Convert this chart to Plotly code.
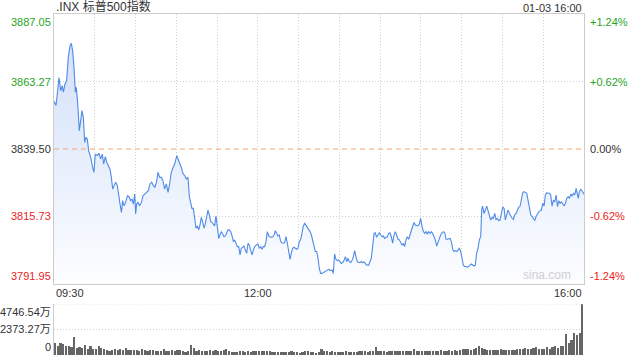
import plotly.graph_objects as go

# ---------------- data ----------------
title_text = ".INX 标普500指数"
stamp_text = "01-03 16:00"
prev_close = 3839.50
price_ticks = [3887.05, 3863.27, 3839.50, 3815.73, 3791.95]
pct_ticks = ["+1.24%", "+0.62%", "0.00%", "-0.62%", "-1.24%"]
vol_ticks = [4746.54, 2373.27, 0]
vol_tick_text = ["4746.54万", "2373.27万", "0"]
time_labels = ["09:30", "12:00", "16:00"]
time_label_pos = [0, 150, 390]          # minutes after 09:30
grid_minutes = [30, 60, 90, 120, 150, 180, 210, 240, 270, 300, 330, 360]

# price: minutes after 09:30 / index level
t1 = [0, 1.5, 3.7, 4.9, 6.1, 6.9, 8.1, 9.3, 10.5, 11.8, 12.8, 13.7, 14.7, 15.7, 16.4, 17.4, 18.6, 19.6, 20.6, 21.6,
      22.6, 23.5, 24.5, 25.5, 27.0, 28.2, 29.4, 30.4, 31.9, 33.1, 34.3, 35.6, 36.5, 37.8, 38.8, 40.0, 41.2, 42.2, 43.2, 44.2,
      45.4, 46.6, 47.6, 48.6, 49.6, 50.5, 51.5, 52.7, 54.0, 55.2, 56.4, 57.4, 58.4, 59.4, 60.1, 60.8, 61.8, 63.0, 64.3, 65.5,
      66.7, 68.2, 69.4, 70.6, 71.9, 73.1, 74.3, 75.6, 76.5, 77.8, 79.0, 80.2, 81.4, 82.7, 83.9, 85.1, 86.3, 87.6, 88.8, 90.3,
      91.3, 92.5, 93.7, 94.9, 96.2, 97.4, 98.6]
p1 = [3856.3, 3854.8, 3864.7, 3860.0, 3861.8, 3859.5, 3862.4, 3863.6, 3871.8, 3875.9,
      3876.7, 3874.1, 3868.3, 3859.5, 3861.2, 3855.9, 3845.9, 3849.5, 3853.0, 3850.6,
      3841.8, 3843.6, 3843.0, 3838.9, 3836.6, 3833.6, 3831.3, 3837.7, 3837.2, 3838.0,
      3836.0, 3837.7, 3834.2, 3836.8, 3834.8, 3833.6, 3832.4, 3829.5, 3825.4, 3826.6,
      3827.8, 3826.6, 3822.5, 3820.1, 3817.2, 3821.3, 3819.5, 3820.7, 3823.0, 3822.7,
      3821.3, 3821.9, 3820.1, 3823.6, 3816.6, 3820.1, 3820.7, 3819.5, 3820.7, 3823.0,
      3823.6, 3824.2, 3824.8, 3827.2, 3827.8, 3826.6, 3826.0, 3828.3, 3831.3, 3829.5,
      3829.5, 3828.3, 3825.4, 3827.2, 3824.2, 3827.2, 3831.3, 3833.0, 3834.2, 3837.1,
      3836.0, 3834.2, 3833.0, 3830.9, 3830.1, 3828.9, 3829.5]

t2 = [99.6, 100.6, 101.5, 102.5, 103.5, 104.5, 105.5, 106.5, 107.4, 108.4,
      109.4, 110.4, 111.4, 112.3, 113.3, 114.3, 115.3, 116.3, 117.2, 118.2,
      119.2, 120.2, 121.2, 122.1, 123.1, 124.1, 125.1, 126.1, 127.1, 128.0,
      129.0, 130.0, 131.0, 132.0, 132.9, 133.9, 134.9, 135.9, 136.9, 137.8,
      138.8, 139.8, 140.8, 141.8, 142.8, 143.7, 144.7, 145.7, 146.7, 147.7,
      148.9, 150.1, 151.1, 152.1, 153.1, 154.0, 155.0, 156.0, 157.0, 158.0,
      158.9, 159.9, 160.9, 161.9, 162.9, 163.8, 164.8, 165.8, 166.8, 167.8,
      168.8, 169.7, 170.7, 171.7, 172.7, 173.7, 174.6, 175.6, 176.6, 177.6,
      178.6, 179.5, 180.5, 181.5, 182.5, 183.5, 184.5, 185.4, 186.4, 187.4,
      188.4, 189.4, 190.3, 191.3, 192.3, 193.3, 194.3, 195.2, 196.2]
p2 = [3822.7, 3821.0, 3818.6, 3818.6, 3815.7, 3811.6, 3812.4, 3811.0, 3812.7, 3815.4,
      3813.9, 3811.6, 3813.3, 3815.1, 3818.0, 3816.3, 3813.9, 3813.6, 3813.1, 3812.4,
      3815.9, 3812.2, 3808.0, 3809.2, 3810.4, 3809.6, 3808.6, 3808.9, 3809.8, 3811.0,
      3811.0, 3810.4, 3808.9, 3806.9, 3807.5, 3806.3, 3805.1, 3805.1, 3802.2, 3804.5,
      3805.1, 3805.3, 3803.9, 3802.8, 3806.3, 3805.7, 3803.9, 3802.2, 3803.9, 3805.1,
      3805.7, 3806.0, 3804.5, 3805.1, 3804.2, 3805.1, 3805.1, 3806.9, 3810.4, 3808.9,
      3808.6, 3808.4, 3808.6, 3809.2, 3810.7, 3809.8, 3808.9, 3809.2, 3806.9, 3806.5,
      3806.3, 3806.5, 3808.6, 3806.3, 3803.4, 3800.6, 3802.8, 3804.5, 3804.9, 3804.5,
      3804.2, 3804.5, 3806.9, 3807.5, 3810.4, 3812.4, 3813.3, 3812.7, 3811.6, 3811.0,
      3810.4, 3809.2, 3807.2, 3805.1, 3803.4, 3803.4, 3801.0, 3797.5, 3795.7]

t3 = [197.2, 198.4, 199.7, 200.9, 202.1, 203.3, 204.6, 205.5,
      206.5, 207.5, 208.5, 209.5, 210.5, 211.4, 212.4, 213.4, 214.4, 215.4,
      216.3, 217.3, 218.3, 219.3, 220.3, 221.2, 222.2, 223.2, 224.2, 225.2,
      226.1, 227.1, 228.1, 229.1, 230.1,
      231.5, 232.5, 233.5, 234.5, 235.5, 236.4, 237.4, 238.4, 239.4, 240.4,
      241.4, 242.3, 243.3, 244.3, 245.3, 246.3, 247.2, 248.2, 249.2, 250.2,
      251.2, 252.1, 253.1, 254.1, 255.1, 256.1, 257.1, 258.0, 259.0, 260.0,
      261.0, 262.0, 262.9, 263.9, 264.9, 265.9, 266.9, 267.8, 268.8, 269.8,
      270.8, 271.8, 272.8, 273.7, 274.7, 275.7, 276.7, 277.7, 278.6, 279.6,
      280.6, 281.6, 282.6, 283.5, 284.5, 285.5, 286.5, 287.5, 288.5, 289.4, 290.4]
p3 = [3795.7, 3796.0, 3796.3, 3796.7, 3797.1, 3796.7, 3796.9, 3795.7, 3802.5, 3800.6,
      3800.2, 3800.4, 3799.8, 3799.2, 3799.5, 3800.2, 3801.6, 3799.8, 3801.0, 3799.8,
      3799.5, 3800.2, 3801.6, 3803.7, 3801.6, 3799.8, 3799.5, 3799.5, 3799.8, 3799.5,
      3799.7, 3799.2, 3798.6, 3798.6, 3799.8, 3801.0, 3805.1, 3809.8, 3810.0, 3808.4,
      3809.2, 3810.0, 3809.2, 3808.6, 3808.9, 3808.0, 3808.4, 3808.6, 3809.8, 3810.0,
      3808.6, 3806.3, 3809.2, 3810.4, 3809.2, 3807.7, 3807.5, 3806.3, 3805.7, 3806.3,
      3805.1, 3807.5, 3808.6, 3807.7, 3809.8, 3810.7, 3812.2, 3813.6, 3812.7, 3812.4,
      3812.4, 3813.1, 3815.1, 3812.2, 3810.4, 3809.8, 3810.4, 3809.6, 3810.4, 3809.8,
      3810.4, 3809.8, 3808.6, 3807.5, 3805.3, 3806.9, 3807.7, 3809.2, 3810.0, 3810.4,
      3810.0, 3807.7, 3807.7, 3808.0]

t4 = [291.4, 292.4, 293.4, 294.3, 295.3, 296.3, 297.3, 298.3, 299.3, 300.2,
      301.2, 302.2, 303.2, 304.2, 305.1, 306.1, 307.1, 308.1, 309.1, 310.0,
      311.0, 312.0, 313.0, 314.0, 314.7, 315.4,
      316.4, 317.4, 318.4, 319.3, 320.3, 321.3, 322.3, 323.3, 324.3, 325.3,
      326.2, 327.2, 328.2, 329.2, 330.2, 331.2, 332.1, 333.1, 334.1, 335.1,
      336.1, 337.1, 338.0, 339.0, 340.0, 341.0, 342.0, 343.0, 343.9, 344.9,
      345.9, 346.9, 347.9, 348.8, 349.8, 350.8, 351.8, 352.8, 353.8, 354.7,
      355.7, 356.7, 357.7, 358.7, 359.6, 360.6, 361.6, 362.6, 363.6, 364.6,
      365.5, 366.5, 367.5, 368.5, 369.5, 370.5, 371.4, 372.4, 373.4, 374.4,
      375.4, 376.3, 377.3, 378.3, 379.3, 380.3, 381.3, 382.2, 383.2, 384.2, 385.2,
      385.8, 386.6, 387.6, 388.5, 389.5, 390.0]
p4 = [3808.0, 3806.9, 3804.2, 3803.4, 3803.7, 3803.4, 3804.2, 3804.5, 3803.4, 3801.6,
      3798.6, 3798.1, 3798.1, 3797.8, 3798.3, 3798.6, 3799.0, 3798.6, 3798.3, 3798.6,
      3802.8, 3804.5, 3807.5, 3808.6, 3818.0, 3819.4,
      3816.8, 3818.0, 3819.4, 3818.0, 3816.3, 3814.5, 3815.4, 3815.1, 3816.8, 3814.7,
      3815.1, 3814.3, 3814.5, 3816.3, 3819.0, 3818.6, 3814.5, 3816.3, 3818.0, 3816.8,
      3815.7, 3815.1, 3814.7, 3816.3, 3816.8, 3818.0, 3819.0, 3819.4, 3821.5, 3824.1,
      3824.5, 3824.1, 3823.9, 3821.5, 3818.6, 3816.3, 3815.7, 3815.1, 3814.3, 3815.7,
      3816.8, 3817.4, 3817.8, 3818.0, 3820.4, 3819.4, 3823.3, 3824.1, 3823.9, 3823.9,
      3823.3, 3819.4, 3821.5, 3820.9, 3823.3, 3819.2, 3821.3, 3820.4, 3820.9, 3820.1,
      3819.4, 3820.4, 3822.1, 3822.7, 3822.1, 3823.6, 3822.9, 3823.9, 3823.3, 3825.6,
      3823.9, 3822.1, 3824.5, 3825.3, 3824.8, 3823.9, 3823.6]

# volume (万), one bar per 2 minutes
vol_am = [1117, 868, 1148, 1024, 838, 868, 713, 1644, 651, 776, 620, 961, 558, 868, 589, 589, 868, 651, 558, 496,
          403, 465, 558, 465, 558, 465, 682, 496, 496, 434, 434, 403, 558, 465, 403, 465, 465, 403, 403, 341,
          558, 341, 403, 465, 403, 465, 465, 403, 310, 403, 961, 651, 403, 465, 403, 403, 403, 465, 341, 465,
          403, 341, 465, 558, 403, 310, 310, 248, 403, 403, 310, 403, 310, 403, 341, 403, 341, 403, 341, 403,
          310, 248, 248, 248, 248, 310, 310, 341, 248, 248, 155, 248, 341, 341, 248, 248, 155, 248]
vol_pm = [527, 372, 372, 310, 372, 310, 279, 310, 279, 341, 279, 310, 310, 310, 341, 403, 341, 310, 372, 341,
          713, 372, 341, 341, 310, 341, 341, 372, 341, 341, 372, 341, 372, 403, 527, 372, 372, 341, 372, 403,
          341, 403, 341, 403, 434, 372, 403, 465, 403, 465, 403, 465, 527, 589, 527, 465, 589, 682, 806, 682,
          527, 465, 465, 434, 465, 465, 527, 465, 465, 434, 434, 465, 527, 589, 527, 651, 527, 589, 620, 713,
          589, 589, 558, 775, 589, 775, 837, 682, 837, 837, 1953, 1085, 1395, 2015, 1860, 2077, 4746.54]
vol_minutes_step = 2

# ---------------- figure ----------------
times, prices = [], []
for tt, pp in ((t1, p1), (t2, p2), (t3, p3), (t4, p4)):
    n = min(len(tt), len(pp))
    times += tt[:n]
    prices += pp[:n]

volumes = vol_am + vol_pm
vol_x = [vol_minutes_step * i + vol_minutes_step / 2 for i in range(len(volumes))]

GREEN = "#1fa61f"
RED = "#ee2222"
DARK = "#333333"
GRID = "#cfcfcf"
BORDER = "#cccccc"
FONT = "Arial, Liberation Sans, Noto Sans CJK SC, sans-serif"

ymin, ymax = price_ticks[-1], price_ticks[0]
main_dom = [0.2082, 1.0]
vol_dom = [0.0, 0.1496]

fig = go.Figure()
fig.add_trace(go.Scatter(
    x=times, y=prices, mode="lines",
    line=dict(color="#4f8ae8", width=1.1),
    fill="tozeroy",
    fillgradient=dict(type="vertical",
                      colorscale=[[0, "rgb(252,253,255)"], [1, "rgb(206,221,248)"]],
                      start=ymin, stop=ymax),
    xaxis="x", yaxis="y", hoverinfo="skip"))
fig.add_trace(go.Bar(
    x=vol_x, y=volumes, width=1.25, marker=dict(color="#666666", line=dict(width=0)),
    xaxis="x2", yaxis="y2", hoverinfo="skip"))

fig.update_layout(
    width=640, height=360,
    margin=dict(l=54, r=56, t=14, b=5),
    paper_bgcolor="white", plot_bgcolor="white",
    showlegend=False,
    font=dict(family=FONT, size=11, color=DARK),
    xaxis=dict(domain=[0, 1], range=[0, 390], anchor="y",
               tickvals=grid_minutes, showticklabels=False, ticks="",
               showgrid=True, gridcolor=GRID, griddash="1px,2px", gridwidth=1,
               showline=True, mirror=True, linecolor=BORDER, linewidth=1, zeroline=False),
    yaxis=dict(domain=main_dom, range=[ymin, ymax], anchor="x",
               tickvals=[price_ticks[1], price_ticks[3]], showticklabels=False, ticks="",
               showgrid=True, gridcolor=GRID, griddash="1px,2px", gridwidth=1,
               showline=True, mirror=True, linecolor=BORDER, linewidth=1, zeroline=False),
    xaxis2=dict(domain=[0, 1], range=[0, 390], anchor="y2",
                showticklabels=False, ticks="", showgrid=False, showline=False, zeroline=False),
    yaxis2=dict(domain=vol_dom, range=[0, vol_ticks[0]], anchor="x2",
                tickvals=[vol_ticks[1]], showticklabels=False, ticks="",
                showgrid=True, gridcolor=GRID, griddash="1px,2px", gridwidth=1,
                showline=True, linecolor=BORDER, linewidth=1, zeroline=False),
    bargap=0,
)

shapes = [
    dict(type="line", xref="paper", x0=0, x1=1, yref="y", y0=prev_close, y1=prev_close,
         line=dict(color="#f2a46e", width=1, dash="5px,4px"), layer="above"),
    dict(type="line", xref="paper", x0=0, x1=1, yref="y2", y0=vol_ticks[0], y1=vol_ticks[0],
         line=dict(color=GRID, width=1, dash="1px,2px"), layer="above"),
]
fig.update_layout(shapes=shapes)

left_colors = [GREEN, GREEN, DARK, RED, RED]
anchors = ["top", "middle", "middle", "middle", "bottom"]
ann = []
for v, c, a, pt in zip(price_ticks, left_colors, anchors, pct_ticks):
    ann.append(dict(xref="paper", x=0, xanchor="right", xshift=-1, yref="y", y=v, yanchor=a,
                    text=f"{v:.2f}", showarrow=False, font=dict(color=c, size=11)))
    ann.append(dict(xref="paper", x=1, xanchor="left", xshift=4, yref="y", y=v, yanchor=a,
                    text=pt, showarrow=False, font=dict(color=c, size=11)))

for v, txt, a in zip(vol_ticks, vol_tick_text, ["top", "middle", "bottom"]):
    ann.append(dict(xref="paper", x=0, xanchor="right", xshift=-1, yref="y2", y=v, yanchor=a,
                    text=txt, showarrow=False, font=dict(color=DARK, size=11)))

for lab, pos, xa in zip(time_labels, time_label_pos, ["left", "center", "right"]):
    ann.append(dict(xref="x", x=pos, xanchor=xa, yref="y domain", y=0, yanchor="top", yshift=-1,
                    text=lab, showarrow=False, font=dict(color=DARK, size=11)))

ann.append(dict(xref="paper", x=0, xanchor="left", yref="y domain", y=1, yanchor="bottom",
                yshift=-2, text=title_text, showarrow=False, font=dict(color=DARK, size=12)))
ann.append(dict(xref="paper", x=1, xanchor="right", yref="y domain", y=1, yanchor="bottom",
                yshift=-2, text=stamp_text, showarrow=False, font=dict(color=DARK, size=11)))
ann.append(dict(xref="paper", x=0.979, xanchor="right", yref="y domain", y=0.0, yanchor="bottom",
                text="sina.com", showarrow=False, font=dict(color="#cfcfcf", size=12)))

fig.update_layout(annotations=ann)
fig.write_html("out.html", config={"displayModeBar": False},
               post_script="document.body.style.margin='0px';document.body.style.overflow='hidden';")
